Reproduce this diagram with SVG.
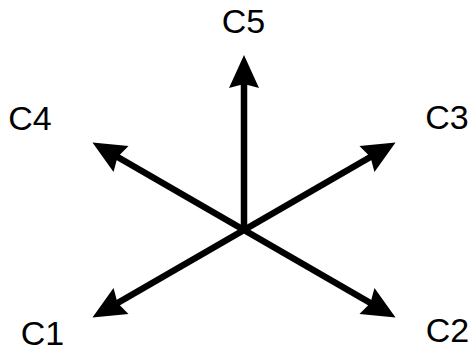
<svg xmlns="http://www.w3.org/2000/svg" width="471" height="351" viewBox="0 0 471 351">
<style>
.lbl{font-family:"Liberation Sans",Arial,sans-serif;font-size:34px;fill:#000;text-anchor:middle}
.ax{stroke:#000;stroke-width:6.5;fill:none;marker-end:url(#ah)}
</style>
<defs>
<marker id="ah" markerUnits="userSpaceOnUse" markerWidth="36" markerHeight="32" refX="8" refY="15" orient="auto" overflow="visible">
<path d="M0,0 L33,15 L0,30 L4,15 z" fill="#000"/>
</marker>
</defs>
<g id="connectors">
<line class="ax" x1="244" y1="230" x2="244" y2="80"/>
<line class="ax" x1="244" y1="230" x2="373.9" y2="155"/>
<line class="ax" x1="244" y1="230" x2="114.1" y2="155"/>
<line class="ax" x1="244" y1="230" x2="114.1" y2="305"/>
<line class="ax" x1="244" y1="230" x2="373.9" y2="305"/>
</g>
<g id="C5"><text class="lbl" x="243.5" y="33">C5</text></g>
<g id="C4"><text class="lbl" x="30" y="130">C4</text></g>
<g id="C3"><text class="lbl" x="447" y="129">C3</text></g>
<g id="C1"><text class="lbl" x="42.5" y="345">C1</text></g>
<g id="C2"><text class="lbl" x="447.5" y="342">C2</text></g>
</svg>
